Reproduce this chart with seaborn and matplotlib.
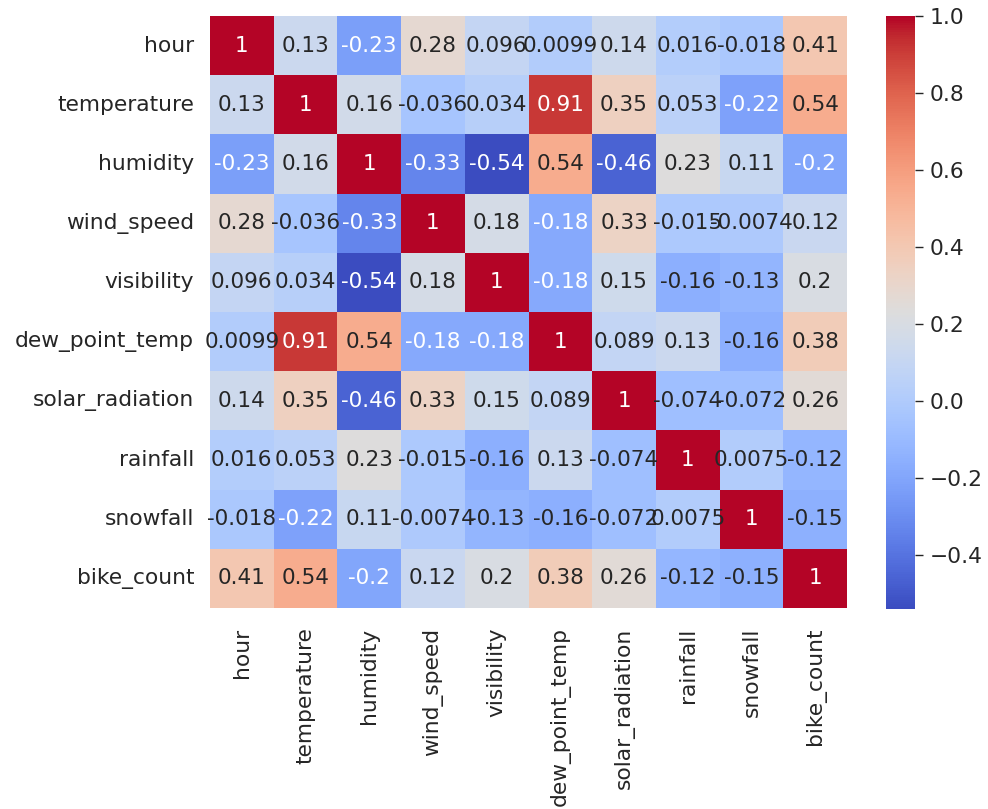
import numpy as np
import pandas as pd
import matplotlib
matplotlib.use("Agg")
import matplotlib.pyplot as plt
import seaborn as sns

labels = ["hour", "temperature", "humidity", "wind_speed", "visibility",
          "dew_point_temp", "solar_radiation", "rainfall", "snowfall", "bike_count"]

row_hour = [1, 0.13, -0.23, 0.28, 0.096, 0.0099, 0.14, 0.016, -0.018, 0.41]
row_temperature = [0.13, 1, 0.16, -0.036, 0.034, 0.91, 0.35, 0.053, -0.22, 0.54]
row_humidity = [-0.23, 0.16, 1, -0.33, -0.54, 0.54, -0.46, 0.23, 0.11, -0.2]
row_wind_speed = [0.28, -0.036, -0.33, 1, 0.18, -0.18, 0.33, -0.015, -0.0074, 0.12]
row_visibility = [0.096, 0.034, -0.54, 0.18, 1, -0.18, 0.15, -0.16, -0.13, 0.2]
row_dew_point_temp = [0.0099, 0.91, 0.54, -0.18, -0.18, 1, 0.089, 0.13, -0.16, 0.38]
row_solar_radiation = [0.14, 0.35, -0.46, 0.33, 0.15, 0.089, 1, -0.074, -0.072, 0.26]
row_rainfall = [0.016, 0.053, 0.23, -0.015, -0.16, 0.13, -0.074, 1, 0.0075, -0.12]
row_snowfall = [-0.018, -0.22, 0.11, -0.0074, -0.13, -0.16, -0.072, 0.0075, 1, -0.15]
row_bike_count = [0.41, 0.54, -0.2, 0.12, 0.2, 0.38, 0.26, -0.12, -0.15, 1]

corr = pd.DataFrame([row_hour, row_temperature, row_humidity, row_wind_speed,
                     row_visibility, row_dew_point_temp, row_solar_radiation,
                     row_rainfall, row_snowfall, row_bike_count],
                    index=labels, columns=labels)

sns.set_theme(style="white")
plt.rcParams['font.family'] = ['DejaVu Sans']

W, H = 988, 809
fig = plt.figure(figsize=(W / 100, H / 100), dpi=100)
ax = fig.add_axes([210 / W, 1 - 608 / H, (847 - 210) / W, (608 - 16) / H])
cax = fig.add_axes([886 / W, 1 - 609 / H, (915 - 886) / W, (609 - 16) / H])

sns.heatmap(corr, annot=True, cmap="coolwarm", ax=ax, cbar_ax=cax,
            annot_kws={"fontsize": 15.5})
ax.tick_params(axis="y", labelsize=15.7, length=0, pad=11.5)
ax.tick_params(axis="x", labelsize=15.7, length=0, pad=14)
cax.tick_params(labelsize=15.7, length=5.5, width=1, right=True, pad=5)
ax.set_xticklabels(labels, rotation=90)
ax.set_yticklabels(labels, rotation=0)

fig.savefig("out.png", dpi=100)
